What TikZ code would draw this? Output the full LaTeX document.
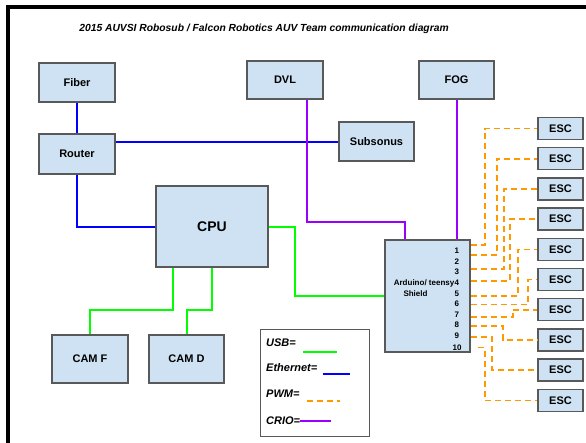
\documentclass[tikz,border=0pt]{standalone}
\usepackage{fontspec}
\setmainfont{Liberation Sans}
\usetikzlibrary{calc}
\definecolor{boxfill}{HTML}{CFE2F3}
\definecolor{boxline}{HTML}{595959}
\definecolor{ethblue}{HTML}{0000FF}
\definecolor{usbgreen}{HTML}{00FF00}
\definecolor{criopurple}{HTML}{9900FF}
\definecolor{pwmorange}{HTML}{FF9900}
\begin{document}
\begin{tikzpicture}[x=1pt,y=-1pt,
  box/.style={draw=boxline, fill=boxfill, line width=1.4pt, inner sep=0pt,
    font=\fontsize{11}{13}\selectfont\bfseries},
  escbox/.style={box, minimum width=45pt, minimum height=22pt},
  ethline/.style={draw=ethblue, line width=2pt},
  usbline/.style={draw=usbgreen, line width=2pt},
  crioline/.style={draw=criopurple, line width=2pt},
  pwmline/.style={draw=pwmorange, line width=1.6pt, dash pattern=on 6pt off 4pt},
  pinlbl/.style={anchor=west, inner sep=0pt, font=\fontsize{8}{9}\selectfont\bfseries},
  leglbl/.style={anchor=west, inner sep=0pt, font=\fontsize{11}{13}\selectfont\bfseries\itshape},
]
\useasboundingbox (0,0) rectangle (586,442);
\fill[white] (0,0) rectangle (586,442);
% frame
\draw[line width=4pt] (7.5,450) -- (7.5,7) -- (600,7);
% title
\node[font=\fontsize{10.3}{12}\selectfont\bfseries\itshape] (title) at (264,29)
  {2015 AUVSI Robosub / Falcon Robotics AUV Team communication diagram};

% boxes
\node[box, minimum width=76pt, minimum height=39pt] (Fiber) at (77,82.5) {Fiber};
\node[box, minimum width=76pt, minimum height=40pt] (Router) at (77,154) {Router};
\node[box, minimum width=112pt, minimum height=81pt, font=\fontsize{14}{16}\selectfont\bfseries] (CPU) at (212,226.5) {CPU};
\node[box, minimum width=76pt, minimum height=38pt] (DVL) at (285,80) {DVL};
\node[box, minimum width=75pt, minimum height=38pt] (FOG) at (456.5,80) {FOG};
\node[box, minimum width=75pt, minimum height=39pt] (Subsonus) at (376.5,141.5) {Subsonus};
\node[box, minimum width=85pt, minimum height=112pt] (Ard) at (427.5,296) {};
\node[box, minimum width=76pt, minimum height=48pt] (CAMF) at (90,359) {CAM F};
\node[box, minimum width=75pt, minimum height=48pt] (CAMD) at (186.5,359) {CAM D};
\foreach \i in {1,...,10} {
  \node[escbox] (E\i) at (560.5,{128.5+30.2*(\i-1)}) {ESC};
}

% Arduino labels
\node[anchor=east, inner sep=0pt, font=\fontsize{8}{9}\selectfont\bfseries] (ardtxt) at (454.5,283) {Arduino/ teensy};
\node[inner sep=0pt, font=\fontsize{8}{9}\selectfont\bfseries] (shieldtxt) at (415.5,293.5) {Shield};
\node[pinlbl] (n1) at (454.5,251) {1};
\node[pinlbl] (n2) at (454.5,261.5) {2};
\node[pinlbl] (n3) at (454.5,272) {3};
\node[pinlbl] (n4) at (454.5,283) {4};
\node[pinlbl] (n5) at (454.5,293.5) {5};
\node[pinlbl] (n6) at (454.5,304) {6};
\node[pinlbl] (n7) at (454.5,314.5) {7};
\node[pinlbl] (n8) at (454.5,325) {8};
\node[pinlbl] (n9) at (454.5,336) {9};
\node[pinlbl] (n10) at (452.5,347.5) {10};

% Ethernet
\draw[ethline] (Fiber) -- (Router);
\draw[ethline] (Router.east |- Subsonus.west) -- (Subsonus.west);
\draw[ethline] (Router.south) |- (CPU.west);

% CRIO
\draw[crioline] ([xshift=22pt]DVL.south) -- ++(0,122) -| ([xshift=-22.5pt]Ard.north);
\draw[crioline] (FOG.south) -- (FOG.south |- Ard.north);

% USB
\draw[usbline] (CPU.east) -- ++(26,0) |- (Ard.west);
\draw[usbline] ([xshift=-39pt]CPU.south) -- ++(0,42) -| (CAMF.north);
\draw[usbline] (CPU.south) -- ++(0,42) -| (CAMD.north);

% PWM
\coordinate (p1) at (Ard.east |- 0,245);
\coordinate (p2) at (Ard.east |- 0,255);
\coordinate (p3) at (Ard.east |- 0,269);
\coordinate (p4) at (Ard.east |- 0,281);
\coordinate (p5) at (Ard.east |- 0,296);
\coordinate (p6) at (Ard.east |- 0,304.5);
\coordinate (p7) at (Ard.east |- 0,317);
\coordinate (p8) at (Ard.east |- 0,326);
\coordinate (p9) at (Ard.east |- 0,337);
\coordinate (p10) at ([xshift=7pt]Ard.east |- 0,347.5);
\draw[pwmline] (p1) -- ++(14,0) |- (E1.west);
\draw[pwmline] (p2) -- ++(26,0) |- (E2.west);
\draw[pwmline] (p3) -- ++(33,0) |- (E3.west);
\draw[pwmline] (p4) -- ++(39,0) |- (E4.west);
\draw[pwmline] (p5) -- ++(47,0) |- (E5.west);
\draw[pwmline] (p6) -- ++(57,0) |- (E6.west);
\draw[pwmline] (p7) -- ++(42,0) |- (E7.west);
\draw[pwmline] (p8) -- ++(32,0) |- (E8.west);
\draw[pwmline] (p9) -- ++(21,0) |- (E9.west);
\draw[pwmline] (p10) -- ++(7,0) |- (E10.west);

% Legend
\node[draw=boxline, fill=white, line width=1pt, minimum width=109pt, minimum height=107pt, inner sep=0pt] (legend) at (314.5,382.5) {};
\node[leglbl] (lusb) at (266,343) {USB=};
\node[leglbl] (leth) at (266,368) {Ethernet=};
\node[leglbl] (lpwm) at (266,394) {PWM=};
\node[leglbl] (lcrio) at (266,421) {CRIO=};
\draw[usbline] (303,352) -- (337,352);
\draw[ethline] (323,374) -- (350,374);
\draw[pwmline] (307,401) -- (340,401);
\draw[crioline] (300,421) -- (331,421);
\end{tikzpicture}
\end{document}
